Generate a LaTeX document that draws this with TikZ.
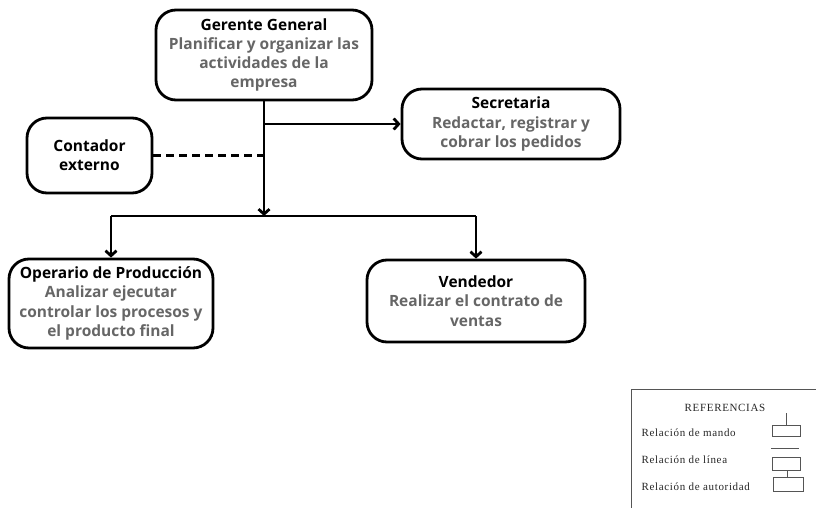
\documentclass[tikz,border=0pt]{standalone}
\usepackage{fontspec}
\setmainfont{Open Sans}
\newfontfamily\legfont[LetterSpace=6]{Liberation Serif}
\usetikzlibrary{arrows.meta}
\definecolor{descgray}{HTML}{666666}
\definecolor{leggray}{HTML}{555555}

\begin{document}
\begin{tikzpicture}[x=1pt,y=-1pt,
  puesto/.style={draw,line width=2.8pt,rounded corners=20pt,align=center,text=descgray,
    font=\fontsize{15.5}{19.3}\selectfont\bfseries,inner sep=0pt},
  linea/.style={line width=2.8pt},
  flecha/.style={linea,-{Straight Barb[length=5pt,width=11pt]}},
  leyenda/.style={font=\legfont\fontsize{11}{13}\selectfont,text=black!85}]
\useasboundingbox (0,0) rectangle (816,508);

\node [puesto,minimum width=216pt,minimum height=90pt] (ger) at (264,55)
  {{\color{black}Gerente General}\\Planificar y organizar las\\actividades de la\\empresa};
\node [puesto,minimum width=218pt,minimum height=70pt] (sec) at (511,124)
  {{\color{black}Secretaria}\\Redactar, registrar y\\cobrar los pedidos};
\node [puesto,minimum width=125pt,minimum height=75pt] (cont) at (89.5,155.5)
  {{\color{black}Contador}\\{\color{black}externo}};
\node [puesto,minimum width=204pt,minimum height=89pt] (op) at (111,303.5)
  {{\color{black}Operario de Producción}\\Analizar ejecutar\\controlar los procesos y\\el producto final};
\node [puesto,minimum width=218pt,minimum height=82pt] (ven) at (476,301)
  {{\color{black}Vendedor}\\Realizar el contrato de\\ventas};
\coordinate (bar) at (263,216);

\draw [flecha] (ger.south) -- (ger.south |- bar);
\draw [flecha] (ger.south |- sec.west) -- (sec.west);
\draw [linea,dash pattern=on 8pt off 5pt] (cont.east) -- (ger.south |- cont.east);
\draw [linea] (op.north |- bar) -- (ven.north |- bar);
\draw [flecha] (op.north |- bar) -- (op.north);
\draw [flecha] (ven.north |- bar) -- (ven.north);

% referencias
\draw [leggray,line width=0.8pt] (816,389) -- (631,389) -- (631,508);
\node [leyenda] (refs) at (725,408) {REFERENCIAS};
\foreach \y/\t [count=\i] in {433/mando,460/línea,487/autoridad}
   \node [leyenda,anchor=west] (rel\i) at (638,\y) {Relación de \t};
\begin{scope}[leggray,line width=0.8pt]
\draw (772,425) rectangle (800,436);
\draw (786,413) -- (786,425);
\draw (771,448) -- (799,448);
\draw (772,457) rectangle (800,470);
\draw (773,477) rectangle (803,491);
\draw (787,470) -- (787,477);
\end{scope}
\end{tikzpicture}
\end{document}
